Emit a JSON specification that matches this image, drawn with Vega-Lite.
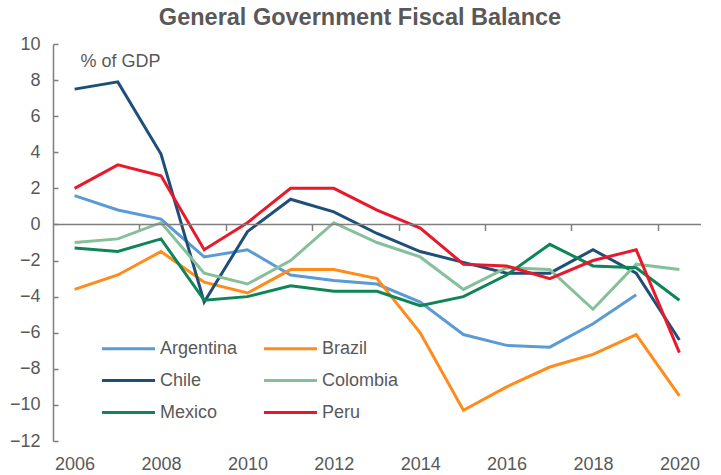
{
  "$schema": "https://vega.github.io/schema/vega-lite/v6.json",
  "width": 648,
  "height": 397,
  "autosize": "none",
  "padding": {"left": 53, "top": 44, "right": 20, "bottom": 34},
  "background": "white",
  "config": {"font": "Liberation Sans", "view": {"stroke": null}},
  "title": {"text": "General Government Fiscal Balance", "fontSize": 23.5, "fontWeight": "bold", "color": "#595959", "anchor": "middle", "frame": "group", "dx": -17, "offset": 6},
  "layer": [
    {
      "data": {"values": [
        {"country": "Argentina", "year": 2006, "value": 1.6},
        {"country": "Argentina", "year": 2007, "value": 0.8},
        {"country": "Argentina", "year": 2008, "value": 0.3},
        {"country": "Argentina", "year": 2009, "value": -1.8},
        {"country": "Argentina", "year": 2010, "value": -1.4},
        {"country": "Argentina", "year": 2011, "value": -2.8},
        {"country": "Argentina", "year": 2012, "value": -3.1},
        {"country": "Argentina", "year": 2013, "value": -3.3},
        {"country": "Argentina", "year": 2014, "value": -4.3},
        {"country": "Argentina", "year": 2015, "value": -6.1},
        {"country": "Argentina", "year": 2016, "value": -6.7},
        {"country": "Argentina", "year": 2017, "value": -6.8},
        {"country": "Argentina", "year": 2018, "value": -5.5},
        {"country": "Argentina", "year": 2019, "value": -3.9},
        {"country": "Brazil", "year": 2006, "value": -3.6},
        {"country": "Brazil", "year": 2007, "value": -2.8},
        {"country": "Brazil", "year": 2008, "value": -1.5},
        {"country": "Brazil", "year": 2009, "value": -3.2},
        {"country": "Brazil", "year": 2010, "value": -3.8},
        {"country": "Brazil", "year": 2011, "value": -2.5},
        {"country": "Brazil", "year": 2012, "value": -2.5},
        {"country": "Brazil", "year": 2013, "value": -3.0},
        {"country": "Brazil", "year": 2014, "value": -6.0},
        {"country": "Brazil", "year": 2015, "value": -10.3},
        {"country": "Brazil", "year": 2016, "value": -9.0},
        {"country": "Brazil", "year": 2017, "value": -7.9},
        {"country": "Brazil", "year": 2018, "value": -7.2},
        {"country": "Brazil", "year": 2019, "value": -6.1},
        {"country": "Brazil", "year": 2020, "value": -9.5},
        {"country": "Chile", "year": 2006, "value": 7.5},
        {"country": "Chile", "year": 2007, "value": 7.9},
        {"country": "Chile", "year": 2008, "value": 3.9},
        {"country": "Chile", "year": 2009, "value": -4.3},
        {"country": "Chile", "year": 2010, "value": -0.4},
        {"country": "Chile", "year": 2011, "value": 1.4},
        {"country": "Chile", "year": 2012, "value": 0.7},
        {"country": "Chile", "year": 2013, "value": -0.5},
        {"country": "Chile", "year": 2014, "value": -1.5},
        {"country": "Chile", "year": 2015, "value": -2.1},
        {"country": "Chile", "year": 2016, "value": -2.7},
        {"country": "Chile", "year": 2017, "value": -2.7},
        {"country": "Chile", "year": 2018, "value": -1.4},
        {"country": "Chile", "year": 2019, "value": -2.7},
        {"country": "Chile", "year": 2020, "value": -6.4},
        {"country": "Colombia", "year": 2006, "value": -1.0},
        {"country": "Colombia", "year": 2007, "value": -0.8},
        {"country": "Colombia", "year": 2008, "value": 0.1},
        {"country": "Colombia", "year": 2009, "value": -2.7},
        {"country": "Colombia", "year": 2010, "value": -3.3},
        {"country": "Colombia", "year": 2011, "value": -2.0},
        {"country": "Colombia", "year": 2012, "value": 0.1},
        {"country": "Colombia", "year": 2013, "value": -1.0},
        {"country": "Colombia", "year": 2014, "value": -1.8},
        {"country": "Colombia", "year": 2015, "value": -3.6},
        {"country": "Colombia", "year": 2016, "value": -2.4},
        {"country": "Colombia", "year": 2017, "value": -2.5},
        {"country": "Colombia", "year": 2018, "value": -4.7},
        {"country": "Colombia", "year": 2019, "value": -2.2},
        {"country": "Colombia", "year": 2020, "value": -2.5},
        {"country": "Mexico", "year": 2006, "value": -1.3},
        {"country": "Mexico", "year": 2007, "value": -1.5},
        {"country": "Mexico", "year": 2008, "value": -0.8},
        {"country": "Mexico", "year": 2009, "value": -4.2},
        {"country": "Mexico", "year": 2010, "value": -4.0},
        {"country": "Mexico", "year": 2011, "value": -3.4},
        {"country": "Mexico", "year": 2012, "value": -3.7},
        {"country": "Mexico", "year": 2013, "value": -3.7},
        {"country": "Mexico", "year": 2014, "value": -4.5},
        {"country": "Mexico", "year": 2015, "value": -4.0},
        {"country": "Mexico", "year": 2016, "value": -2.8},
        {"country": "Mexico", "year": 2017, "value": -1.1},
        {"country": "Mexico", "year": 2018, "value": -2.3},
        {"country": "Mexico", "year": 2019, "value": -2.4},
        {"country": "Mexico", "year": 2020, "value": -4.2},
        {"country": "Peru", "year": 2006, "value": 2.0},
        {"country": "Peru", "year": 2007, "value": 3.3},
        {"country": "Peru", "year": 2008, "value": 2.7},
        {"country": "Peru", "year": 2009, "value": -1.4},
        {"country": "Peru", "year": 2010, "value": 0.1},
        {"country": "Peru", "year": 2011, "value": 2.0},
        {"country": "Peru", "year": 2012, "value": 2.0},
        {"country": "Peru", "year": 2013, "value": 0.8},
        {"country": "Peru", "year": 2014, "value": -0.2},
        {"country": "Peru", "year": 2015, "value": -2.2},
        {"country": "Peru", "year": 2016, "value": -2.3},
        {"country": "Peru", "year": 2017, "value": -3.0},
        {"country": "Peru", "year": 2018, "value": -2.0},
        {"country": "Peru", "year": 2019, "value": -1.4},
        {"country": "Peru", "year": 2020, "value": -7.1}
      ]},
      "mark": {"type": "line", "strokeWidth": 3},
      "encoding": {
        "x": {
          "field": "year", "type": "quantitative",
          "scale": {"domain": [2005.5, 2020.5], "nice": false, "zero": false},
          "axis": {"values": [2006, 2008, 2010, 2012, 2014, 2016, 2018, 2020], "format": "d", "ticks": false, "domain": false, "grid": false, "labelOverlap": false, "labelFontSize": 18, "labelColor": "#595959", "labelPadding": 14, "title": null, "orient": "bottom"}
        },
        "y": {
          "field": "value", "type": "quantitative",
          "scale": {"domain": [-12, 10], "nice": false, "zero": false},
          "axis": {"values": [-12, -10, -8, -6, -4, -2, 0, 2, 4, 6, 8, 10], "grid": false, "labelOverlap": false, "tickSize": -5, "labelPadding": 18, "domainColor": "#7f7f7f", "domainWidth": 1.5, "tickColor": "#7f7f7f", "tickWidth": 1.5, "labelFontSize": 18, "labelColor": "#595959", "title": "% of GDP", "titleAngle": 0, "titleAlign": "left", "titleBaseline": "alphabetic", "titleX": 27, "titleY": 22, "titleFontSize": 18, "titleFontWeight": "normal", "titleColor": "#595959", "orient": "left"}
        },
        "color": {
          "field": "country", "type": "nominal",
          "scale": {"domain": ["Argentina", "Brazil", "Chile", "Colombia", "Mexico", "Peru"], "range": ["#5B9BD5", "#FF8C1A", "#1F4E79", "#86BF9A", "#0E8556", "#E8192C"]},
          "legend": {"orient": "none", "legendX": 63, "legendY": 292, "columns": 2, "direction": "horizontal", "title": null, "symbolType": "M-2.5,0H2.5", "symbolSize": 450, "symbolStrokeWidth": 3, "labelFontSize": 18, "labelColor": "#595959", "labelOffset": 19, "rowPadding": 10, "columnPadding": 19, "padding": 0}
        }
      }
    },
    {
      "data": {"values": [{}]},
      "mark": {"type": "rule", "color": "#7f7f7f", "strokeWidth": 1.5},
      "encoding": {
        "x": {"datum": 2005.5, "axis": {"orient": "bottom", "offset": -216.5, "values": [2007.5, 2009.5, 2011.5, 2013.5, 2015.5, 2017.5, 2019.5], "labels": false, "domain": false, "ticks": true, "tickSize": 6, "tickColor": "#7f7f7f", "tickWidth": 1.5, "grid": false, "title": null}},
        "x2": {"datum": 2020.5},
        "y": {"datum": 0, "axis": null}
      }
    }
  ],
  "resolve": {"axis": {"x": "independent", "y": "independent"}}
}
